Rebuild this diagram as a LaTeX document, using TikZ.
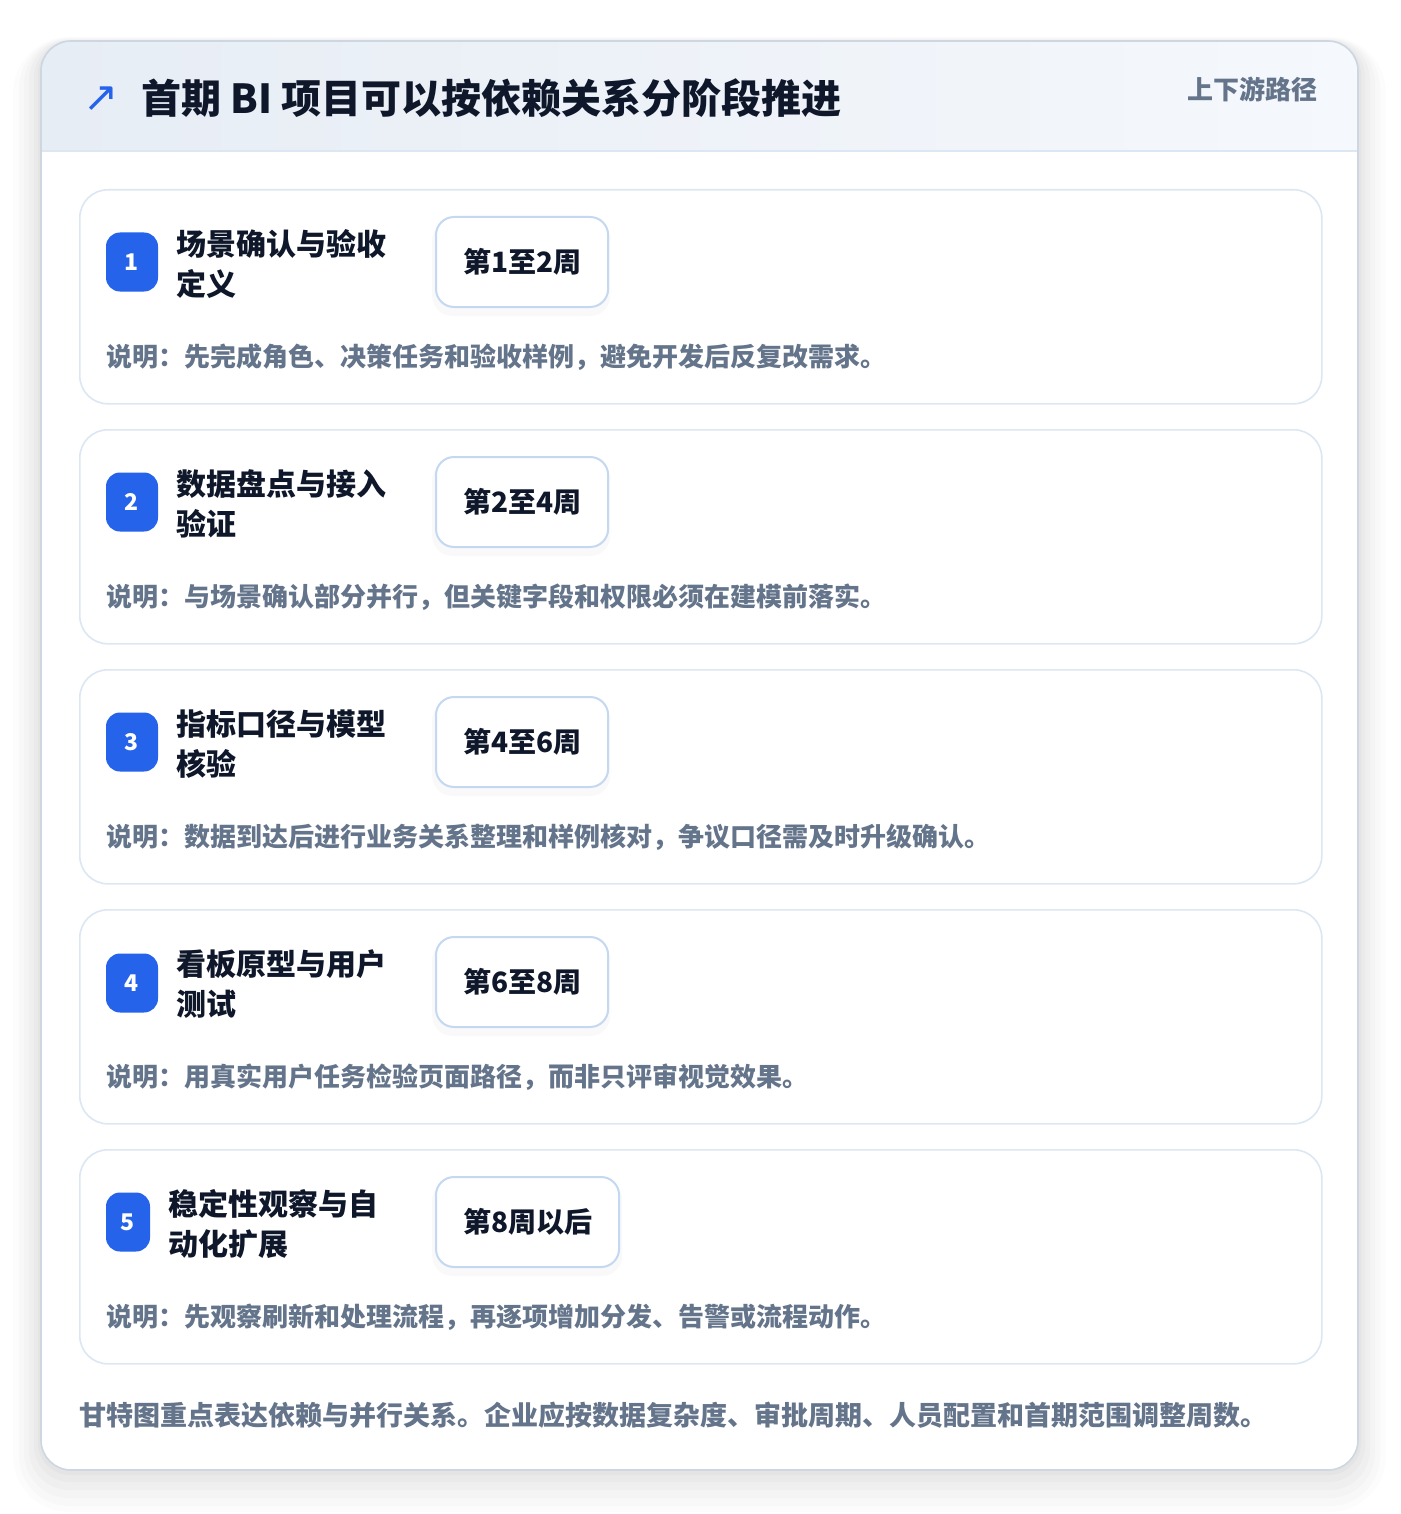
\documentclass[tikz,border=0pt]{standalone}
\usepackage{fontspec}
\setmainfont{Noto Sans CJK SC}
\newfontfamily\symfont{DejaVu Sans}
\usetikzlibrary{positioning}
\usetikzlibrary{calc, shapes, backgrounds}

\definecolor{mainblue}{HTML}{2563EB}
\definecolor{inkdark}{HTML}{0F172A}
\definecolor{inkgray}{HTML}{64748B}
\definecolor{cardline}{HTML}{DCE7F4}
\definecolor{weekline}{HTML}{C4D8F1}
\definecolor{outerline}{HTML}{CDD6E1}
\definecolor{headleft}{HTML}{E7EDF5}
\definecolor{headright}{HTML}{F5F8FC}

\begin{document}
\begin{tikzpicture}[x=1pt,y=-1pt,font=\bfseries]
 \tikzstyle{card node}=[rectangle,rounded corners=28pt,draw=cardline,line width=1.6pt,fill=white,minimum width=1242pt,minimum height=214pt,anchor=north west,inner sep=0]
 \tikzstyle{badge node}=[rectangle,rounded corners=14pt,fill=mainblue,text=white,minimum width=52pt,minimum height=59pt,inner sep=0,font=\fontsize{23}{23}\selectfont\bfseries]
 \tikzstyle{week node}=[rectangle,rounded corners=18pt,draw=weekline,line width=2pt,fill=white,minimum height=90pt,inner xsep=27pt,anchor=west,text=inkdark,font=\fontsize{28}{28}\selectfont\bfseries]
 \tikzset{
 	stage node/.style={anchor=west,align=left,inner sep=0,text=inkdark,font=\fontsize{30}{40}\selectfont\bfseries},
 	note node/.style={anchor=west,inner sep=0,text=inkgray,font=\fontsize{26}{26}\selectfont\bfseries},
 	glow node/.style={rectangle,rounded corners=20pt,fill=black,opacity=0.025,minimum height=96pt,minimum width=178pt,inner sep=0,anchor=west}
 }

 \useasboundingbox (0,0) rectangle (1400,1514);
 \fill[white] (0,0) rectangle (1400,1514);

 % soft shadow of the outer card
 \fill[black,opacity=0.012,rounded corners=56pt] (13,37) rectangle (1386,1512);
 \fill[black,opacity=0.014,rounded corners=50pt] (19,38) rectangle (1380,1506);
 \fill[black,opacity=0.016,rounded corners=45pt] (24,39) rectangle (1375,1498);
 \fill[black,opacity=0.018,rounded corners=40pt] (29,40) rectangle (1370,1490);
 \fill[black,opacity=0.02,rounded corners=36pt] (34,41) rectangle (1365,1482);
 \fill[black,opacity=0.025,rounded corners=32pt] (38,42) rectangle (1361,1475);

 % outer card and header band
 \fill[white,rounded corners=30pt] (41,41) rectangle (1358,1470);
 \begin{scope}
  \clip[rounded corners=30pt] (41,41) rectangle (1358,1470);
  \shade[left color=headleft,right color=headright] (41,41) rectangle (1358,151);
 \end{scope}
 \draw[cardline,line width=1.6pt] (42,151) -- (1357,151);
 \draw[outerline,line width=1.6pt,rounded corners=30pt] (41,41) rectangle (1358,1470);

 \node[inner sep=0,text=mainblue,font=\symfont\fontsize{42}{42}\selectfont] (arrow) at (101,99) {↗};
 \node[anchor=west,inner sep=0,text=inkdark,font=\fontsize{40}{40}\selectfont\bfseries] (title) at (141,98) {首期 BI 项目可以按依赖关系分阶段推进};
 \node[anchor=east,inner sep=0,text=inkgray,font=\fontsize{26}{26}\selectfont\bfseries] (path) at (1318,89) {上下游路径};

 % stage 1
 \node[card node] (c1) at (79,189) {};
 \node[badge node] (b1) at (132,262) {1};
 \node[stage node] (s1) at (176,264) {场景确认与验收\\定义};
 \node[glow node] (g1) at (432,268) {};
 \node[week node] (w1) at (435,262) {第1至2周};
 \node[note node] (n1) at (106,357) {说明：先完成角色、决策任务和验收样例，避免开发后反复改需求。};

 % stage 2
 \node[card node] (c2) at (79,429) {};
 \node[badge node] (b2) at (132,502) {2};
 \node[stage node] (s2) at (176,504) {数据盘点与接入\\验证};
 \node[glow node] (g2) at (432,508) {};
 \node[week node] (w2) at (435,502) {第2至4周};
 \node[note node] (n2) at (106,597) {说明：与场景确认部分并行，但关键字段和权限必须在建模前落实。};

 % stage 3
 \node[card node] (c3) at (79,669) {};
 \node[badge node] (b3) at (132,742) {3};
 \node[stage node] (s3) at (176,744) {指标口径与模型\\核验};
 \node[glow node] (g3) at (432,748) {};
 \node[week node] (w3) at (435,742) {第4至6周};
 \node[note node] (n3) at (106,837) {说明：数据到达后进行业务关系整理和样例核对，争议口径需及时升级确认。};

 % stage 4
 \node[card node] (c4) at (79,909) {};
 \node[badge node] (b4) at (132,983) {4};
 \node[stage node] (s4) at (176,984) {看板原型与用户\\测试};
 \node[glow node] (g4) at (432,988) {};
 \node[week node] (w4) at (435,982) {第6至8周};
 \node[note node] (n4) at (106,1077) {说明：用真实用户任务检验页面路径，而非只评审视觉效果。};

 % stage 5
 \node[card node] (c5) at (79,1149) {};
 \node[badge node,minimum width=44pt] (b5) at (128,1222) {5};
 \node[stage node] (s5) at (168,1224) {稳定性观察与自\\动化扩展};
 \node[glow node,minimum width=190pt] (g5) at (432,1228) {};
 \node[week node] (w5) at (435,1222) {第8周以后};
 \node[note node] (n5) at (106,1317) {说明：先观察刷新和处理流程，再逐项增加分发、告警或流程动作。};

 \node[note node,font=\fontsize{27}{27}\selectfont\bfseries] (foot) at (79,1415) {甘特图重点表达依赖与并行关系。企业应按数据复杂度、审批周期、人员配置和首期范围调整周数。};
\end{tikzpicture}
\end{document}
